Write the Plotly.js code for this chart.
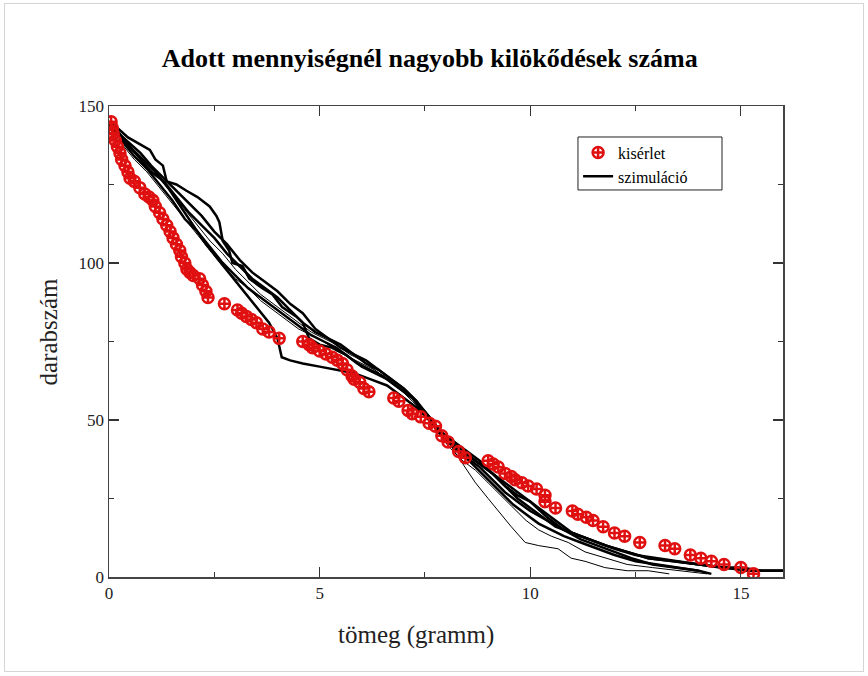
<!DOCTYPE html>
<html>
<head>
<meta charset="utf-8">
<script src="https://cdn.plot.ly/plotly-3.0.1.min.js"></script>
<style>
  html, body { margin: 0; padding: 0; background: #fff; }
  #wrap { position: relative; width: 868px; height: 676px; }
  #chart { width: 868px; height: 676px; }
  #frame { position: absolute; left: 4px; top: 3px; width: 860px; height: 669px;
           border: 1px solid #d4d4d4; pointer-events: none; box-sizing: border-box; }
</style>
</head>
<body>
<div id="wrap">
  <div id="chart"></div>
  <div id="frame"></div>
</div>
<script>
// Measured data: number of ejected pieces heavier than a given mass
const expMass = [0.05,0.08,0.1,0.15,0.2,0.26,0.3,0.38,0.45,0.5,0.6,0.73,0.85,0.95,1.04,1.1,1.2,1.28,1.37,1.45,
  1.52,1.6,1.68,1.72,1.8,1.85,1.92,2.0,2.15,2.22,2.3,2.35,2.74,3.05,3.15,3.26,3.38,3.5,3.65,3.8,
  4.04,4.6,4.75,4.83,5.0,5.15,5.3,5.42,5.54,5.65,5.77,5.82,5.95,6.05,6.17,6.76,6.88,7.1,7.2,7.4,
  7.6,7.75,7.9,8.05,8.3,8.46,9.0,9.12,9.24,9.4,9.55,9.64,9.8,9.95,10.15,10.35,10.35,10.6,11.0,11.13,
  11.33,11.49,11.73,12.0,12.24,12.6,13.2,13.43,13.8,14.05,14.3,14.6,15.0,15.3];
const expCount = [145,143,141,139,137,135,133,131,129,127,126,124,122,121,120,118,116,114,112,110,
  108,106,104,102,100,98,97,96,95,93,91,89,87,85,84,83,82,81,79,78,
  76,75,74,73,72,71,70,69,68,66,64,63,62,60,59,57,56,53,52,51,
  49,48,45,43,40,38,37,36,35,33,32,31,30,29,28,26,24,22,21,20,
  19,18,16,14,13,11,10,9,7,6,5,4,3,1];

// Simulation runs
const sim1Mass = [0,0.2,0.45,0.7,0.97,1.1,1.28,1.37,1.6,1.84,2.1,2.39,2.55,2.62,2.7,2.85,2.93,3.17,3.33,3.64,
  3.88,4.11,4.44,4.6,4.75,5.0,5.3,5.6,5.9,6.2,6.5,6.8,7.0,7.2,7.4,7.6,7.8,8.0,8.3,8.6,
  8.9,9.2,9.5,9.8,10.1,10.4,10.7,11.0,11.4,11.8,12.3,12.8,13.4,14.0,14.6,15.2,16];
const sim1Count = [145,143,140,138,136,133,131,126,125,123,121,118,115,113,107,104,100,99,95,92,
  90,86,83,81,76,74,73,71,68,66,64,61,59,57,54,51,47,44,41,38,
  35,32,29,26,23,20,17,14,12,10,8,6,5,4,3,2,2];

const sim2Mass = [0,0.3,0.6,0.9,1.2,1.5,1.8,2.1,2.4,2.7,3.0,3.3,3.6,3.9,4.2,4.5,4.8,5.1,5.4,5.7,
  6.0,6.3,6.6,6.9,7.2,7.5,7.8,8.1,8.4,8.7,9.0,9.3,9.6,9.9,10.2,10.5,10.8,11.2,11.6,12.0,
  12.5,13.0,13.5,14.0,14.3];
const sim2Count = [145,139,134,130,125,120,114,110,105,100,96,92,89,86,83,80,77,75,73,70,
  67,65,63,60,57,52,47,43,39,35,31,27,23,20,17,15,13,11,9,7,
  5,4,3,2,1];

const sim3Mass = [0,0.25,0.5,0.8,1.1,1.4,1.7,2.0,2.3,2.6,2.9,3.2,3.5,3.8,4.0,4.1,4.3,4.6,5.0,5.4,
  5.8,6.2,6.6,7.0,7.3,7.6,7.9,8.2,8.5,8.8,9.1,9.4,9.7,10.0,10.3,10.6,11.0,11.4,11.8,12.3,
  12.8,13.4,14.0,14.6,15.2,16];
const sim3Count = [144,140,137,133,129,124,118,112,106,101,96,91,86,81,76,70,69,68,67,66,
  65,63,61,57,54,50,46,42,39,36,33,29,25,22,19,16,14,12,10,8,
  6,5,4,3,2,2];

const sim4Mass = [0,0.3,0.6,0.9,1.2,1.5,1.8,2.1,2.4,2.7,3.0,3.3,3.6,3.9,4.2,4.5,4.8,5.1,5.4,5.7,
  6.0,6.3,6.6,6.9,7.2,7.5,7.8,8.1,8.4,8.7,9.0,9.24,9.55,9.88,10.2,10.66,10.97,11.3,11.77,12.3,
  12.8,13.3];
const sim4Count = [143,138,133,129,124,119,114,109,104,99,95,92,88,85,82,79,77,75,72,70,
  68,66,63,60,57,53,48,42,36,30,25,21,16,11,10,9,6,5,3,2,
  2,1];

const sim5Mass = [0,0.2,0.5,0.8,1.0,1.3,1.6,1.9,2.2,2.5,2.8,3.1,3.4,3.7,4.0,4.3,4.6,4.9,5.2,5.5,
  5.8,6.1,6.4,6.7,7.0,7.3,7.6,7.9,8.2,8.5,8.8,9.1,9.4,9.7,10.0,10.4,10.8,11.2,11.6,12.0,
  12.4,12.9,13.4,14.0];
const sim5Count = [145,142,137,132,129,126,121,116,112,108,103,99,95,92,89,85,81,78,76,73,
  71,68,66,63,60,56,51,46,43,40,37,33,29,26,24,19,15,12,10,8,
  6,4,3,2];

const sim6Mass = [0,0.3,0.6,0.9,1.2,1.5,1.8,2.1,2.4,2.7,3.0,3.3,3.6,3.9,4.2,4.5,4.8,5.1,5.4,5.7,
  6.0,6.3,6.6,6.9,7.2,7.5,7.8,8.1,8.4,8.7,9.0,9.3,9.6,9.9,10.2,10.5,10.9,11.3,11.8,12.3,
  12.9,13.5,14.2];
const sim6Count = [144,139,135,131,127,122,117,112,107,103,98,94,90,87,84,81,78,76,74,71,
  69,66,63,60,56,52,46,41,37,34,30,26,22,18,15,13,11,8,6,4,
  3,2,1];

const sim7Mass = [0,0.25,0.5,0.75,1.0,1.3,1.6,1.9,2.2,2.5,2.8,3.1,3.4,3.7,4.0,4.3,4.6,4.9,5.2,5.5,
  5.8,6.1,6.4,6.7,7.0,7.3,7.6,7.9,8.2,8.5,8.8,9.1,9.4,9.7,10.0,10.4,10.8,11.2,11.6,12.0,
  12.5,13.0,13.5,14.0,14.5,15.0,15.5,16];
const sim7Count = [145,141,138,135,131,127,123,119,115,110,106,101,97,94,91,87,84,79,76,74,
  71,69,66,63,60,56,50,45,41,38,35,31,27,24,21,18,15,13,11,9,
  7,6,5,4,3,3,2,2];

const xTicks = [0, 5, 10, 15];
const yTicks = [0, 50, 100, 150];

const serif = '"Liberation Serif", "Times New Roman", serif';

const simRuns = [
  [sim1Mass, sim1Count, 2.5],
  [sim2Mass, sim2Count, 2.5],
  [sim3Mass, sim3Count, 2.5],
  [sim4Mass, sim4Count, 1],
  [sim5Mass, sim5Count, 2.5],
  [sim6Mass, sim6Count, 1],
  [sim7Mass, sim7Count, 2.5]
];

const traces = [];
simRuns.forEach(function (run, i) {
  traces.push({
    x: run[0], y: run[1],
    type: 'scatter', mode: 'lines',
    line: { color: '#000', width: run[2] },
    name: 'szimuláció',
    legendgroup: 'sim',
    showlegend: i === 0,
    legendrank: 2
  });
});
traces.push({
  x: expMass, y: expCount,
  type: 'scatter', mode: 'markers',
  marker: { symbol: 'circle-cross-open', size: 11, color: '#e01010',
            line: { color: '#e01010', width: 2.5 } },
  name: 'kisérlet',
  legendrank: 1
});

const axisBase = {
  showline: true, linecolor: '#444', linewidth: 1.5, mirror: 'ticks',
  ticks: 'inside', ticklen: 10, tickwidth: 1.2, tickcolor: '#333',
  showgrid: false, zeroline: false,
  tickfont: { family: serif, size: 17, color: '#222' }
};

const layout = {
  width: 868, height: 676,
  margin: { l: 109, r: 85, t: 106, b: 99 },
  paper_bgcolor: '#fff', plot_bgcolor: '#fff',
  title: {
    text: '<b>Adott mennyiségnél nagyobb kilökődések száma</b>',
    font: { family: serif, size: 26, color: '#000' },
    x: 0.495, xanchor: 'center', y: 0.915, yanchor: 'middle'
  },
  xaxis: Object.assign({}, axisBase, {
    range: [0, 16], tickvals: xTicks, ticktext: xTicks.map(String),
    minor: { ticks: 'inside', ticklen: 5, tickwidth: 1, dtick: 2.5, tick0: 0, tickcolor: '#333' }
  }),
  yaxis: Object.assign({}, axisBase, {
    range: [0, 150], tickvals: yTicks, ticktext: yTicks.map(String),
    minor: { ticks: 'inside', ticklen: 5, tickwidth: 1, dtick: 25, tick0: 0, tickcolor: '#333' }
  }),
  annotations: [
    { text: 'tömeg (gramm)', xref: 'paper', yref: 'paper', x: 0.456, y: -0.124,
      xanchor: 'center', yanchor: 'middle', showarrow: false,
      font: { family: serif, size: 25, color: '#222' } },
    { text: 'darabszám', xref: 'paper', yref: 'paper', x: -0.09, y: 0.52,
      xanchor: 'center', yanchor: 'middle', showarrow: false, textangle: -90,
      font: { family: serif, size: 25, color: '#222' } }
  ],
  shapes: [
    // legend frame
    { type: 'rect', xref: 'paper', yref: 'paper',
      x0: 0.6958, x1: 0.9095, y0: 0.8217, y1: 0.9342,
      line: { color: '#222', width: 1 }, fillcolor: '#fff', layer: 'above' }
  ],
  legend: {
    x: 0.696, y: 0.937, xanchor: 'left', yanchor: 'top',
    bgcolor: 'rgba(0,0,0,0)', borderwidth: 0,
    font: { family: serif, size: 16, color: '#000' },
    traceorder: 'normal', tracegroupgap: 0
  },
  showlegend: true
};

Plotly.newPlot('chart', traces, layout, { displayModeBar: false, staticPlot: true });
</script>
</body>
</html>
